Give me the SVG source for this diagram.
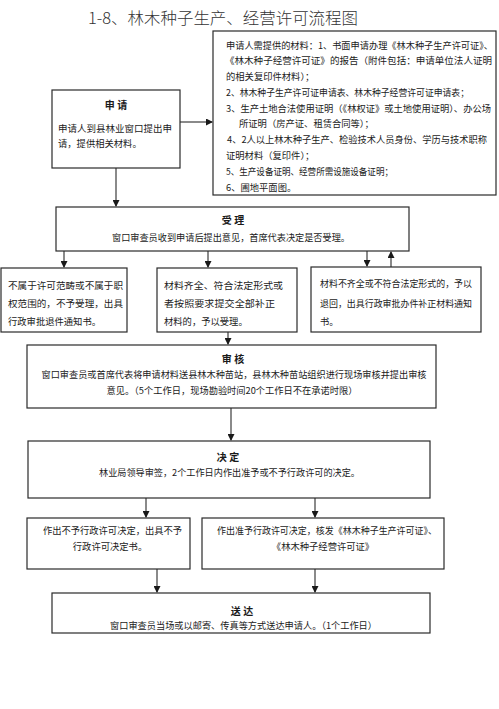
<svg xmlns="http://www.w3.org/2000/svg" width="499" height="709" viewBox="0 0 499 709">
<style>
.box{fill:#fff;stroke:#2a2a2a;stroke-width:1.2}
text{font-family:"Noto Sans CJK SC","Noto Sans",sans-serif;fill:#1a1a1a;font-size:9.3px}
.t{font-weight:bold;font-size:10px}
.m{text-anchor:middle}
.title{font-size:15.5px;fill:#333;font-weight:300}
.c{stroke:#2a2a2a;stroke-width:1.1;fill:none}
</style>
<defs>
<marker id="ah" markerWidth="7" markerHeight="7" refX="6" refY="3.5" orient="auto" markerUnits="userSpaceOnUse">
<path d="M0,0 L7,3.5 L0,7 Z" fill="#1a1a1a"/>
</marker>
</defs>
<rect width="499" height="709" fill="#fff"/>
<text class="title" x="88" y="24" textLength="270" lengthAdjust="spacingAndGlyphs">1-8、林木种子生产、经营许可流程图</text>

<g id="materials">
<rect class="box" x="213" y="31" width="283" height="164"/>
<text x="226" y="48.5" textLength="267" lengthAdjust="spacingAndGlyphs">申请人需提供的材料：1、书面申请办理《林木种子生产许可证》、</text>
<text x="225" y="64.3" textLength="267" lengthAdjust="spacingAndGlyphs">《林木种子经营许可证》的报告（附件包括：申请单位法人证明</text>
<text x="226" y="80.1">的相关复印件材料）；</text>
<text x="226" y="95.8" textLength="243" lengthAdjust="spacingAndGlyphs">2、林木种子生产许可证申请表、林木种子经营许可证申请表；</text>
<text x="226" y="111.6" textLength="265" lengthAdjust="spacingAndGlyphs">3、生产土地合法使用证明（《林权证》或土地使用证明）、办公场</text>
<text x="239" y="127.4">所证明（房产证、租赁合同等）；</text>
<text x="227" y="143.2" textLength="260" lengthAdjust="spacingAndGlyphs">4、2人以上林木种子生产、检验技术人员身份、学历与技术职称</text>
<text x="226" y="158.9">证明材料（复印件）；</text>
<text x="226" y="174.7" textLength="167" lengthAdjust="spacingAndGlyphs">5、生产设备证明、经营所需设施设备证明；</text>
<text x="226" y="190.5">6、圃地平面图。</text>
</g>

<g id="apply">
<rect class="box" x="52" y="90" width="128" height="78"/>
<text class="t m" x="116" y="109">申 请</text>
<text x="58" y="131.5" textLength="114" lengthAdjust="spacingAndGlyphs">申请人到县林业窗口提出申</text>
<text x="58" y="147">请，提供相关材料。</text>
</g>

<g id="accept">
<rect class="box" x="56" y="207" width="353" height="44"/>
<text class="t m" x="233" y="224">受 理</text>
<text class="m" x="231" y="241" textLength="238" lengthAdjust="spacingAndGlyphs">窗口审查员收到申请后提出意见，首席代表决定是否受理。</text>
</g>

<g id="reject">
<rect class="box" x="1" y="268" width="126" height="64"/>
<text x="8" y="288.5" textLength="115" lengthAdjust="spacingAndGlyphs">不属于许可范畴或不属于职</text>
<text x="8" y="306.5" textLength="115" lengthAdjust="spacingAndGlyphs">权范围的，不予受理，出具</text>
<text x="8" y="324.5">行政审批退件通知书。</text>
</g>

<g id="ok">
<rect class="box" x="157" y="268" width="140" height="64"/>
<text x="164" y="288.5" textLength="119" lengthAdjust="spacingAndGlyphs">材料齐全、符合法定形式或</text>
<text x="164" y="306.5" textLength="111" lengthAdjust="spacingAndGlyphs">者按照要求提交全部补正</text>
<text x="164" y="324.5">材料的，予以受理。</text>
</g>

<g id="incomplete">
<rect class="box" x="311" y="267" width="170" height="65"/>
<text x="320" y="286.5" textLength="152" lengthAdjust="spacingAndGlyphs">材料不齐全或不符合法定形式的，予以</text>
<text x="320" y="306.5" textLength="152" lengthAdjust="spacingAndGlyphs">退回，出具行政审批办件补正材料通知</text>
<text x="320" y="324.5">书。</text>
</g>

<g id="review">
<rect class="box" x="27" y="345" width="409" height="63"/>
<text class="t m" x="233" y="363">审 核</text>
<text class="m" x="234" y="377.5" textLength="385" lengthAdjust="spacingAndGlyphs">窗口审查员或首席代表将申请材料送县林木种苗站，县林木种苗站组织进行现场审核并提出审核</text>
<text class="m" x="232" y="393.5" textLength="251" lengthAdjust="spacingAndGlyphs">意见。（5个工作日，现场勘验时间20个工作日不在承诺时限）</text>
</g>

<g id="decide">
<rect class="box" x="28" y="441" width="402" height="57"/>
<text class="t m" x="228" y="461">决 定</text>
<text class="m" x="229.5" y="476" textLength="261" lengthAdjust="spacingAndGlyphs">林业局领导审签，2个工作日内作出准予或不予行政许可的决定。</text>
</g>

<g id="deny">
<rect class="box" x="27" y="518" width="163" height="51"/>
<text class="m" x="112.5" y="533.5" textLength="139" lengthAdjust="spacingAndGlyphs">作出不予行政许可决定，出具不予</text>
<text class="m" x="110" y="549.5">行政许可决定书。</text>
</g>

<g id="grant">
<rect class="box" x="202" y="518" width="242" height="51"/>
<text class="m" x="327" y="533.5" textLength="220" lengthAdjust="spacingAndGlyphs">作出准予行政许可决定，核发《林木种子生产许可证》、</text>
<text class="m" x="323" y="549.5">《林木种子经营许可证》</text>
</g>

<g id="deliver">
<rect class="box" x="52" y="593" width="378" height="40"/>
<text class="t m" x="242" y="615">送 达</text>
<text class="m" x="243.5" y="628.5" textLength="267" lengthAdjust="spacingAndGlyphs">窗口审查员当场或以邮寄、传真等方式送达申请人。（1个工作日）</text>
</g>

<g id="connectors">
<line class="c" x1="116" y1="168" x2="116" y2="206" marker-end="url(#ah)"/>
<line class="c" x1="180" y1="122" x2="212" y2="122" marker-end="url(#ah)"/>
<line class="c" x1="64" y1="251" x2="64" y2="267" marker-end="url(#ah)"/>
<line class="c" x1="208" y1="251" x2="208" y2="267" marker-end="url(#ah)"/>
<line class="c" x1="367" y1="251" x2="367" y2="266" marker-end="url(#ah)"/>
<line class="c" x1="391" y1="267" x2="391" y2="252" marker-end="url(#ah)"/>
<line class="c" x1="228" y1="332" x2="228" y2="344" marker-end="url(#ah)"/>
<line class="c" x1="231" y1="408" x2="231" y2="440" marker-end="url(#ah)"/>
<line class="c" x1="146" y1="498" x2="146" y2="517" marker-end="url(#ah)"/>
<line class="c" x1="315" y1="498" x2="315" y2="517" marker-end="url(#ah)"/>
<line class="c" x1="157" y1="569" x2="157" y2="592" marker-end="url(#ah)"/>
<line class="c" x1="315" y1="569" x2="315" y2="592" marker-end="url(#ah)"/>
</g>
</svg>
